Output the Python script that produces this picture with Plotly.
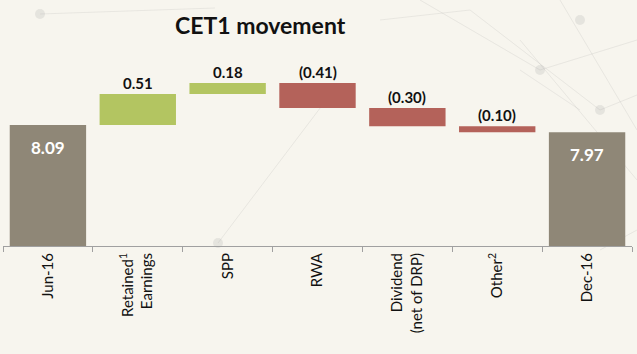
import plotly.graph_objects as go

categories = ["Jun-16", "Retained<sup>1</sup><br>Earnings", "SPP", "RWA",
              "Dividend<br>(net of DRP)", "Other<sup>2</sup>", "Dec-16"]
values = [8.09, 0.51, 0.18, -0.41, -0.30, -0.10, 7.97]
measures = ["absolute", "relative", "relative", "relative", "relative", "relative", "total"]
labels = ["8.09", "0.51", "0.18", "(0.41)", "(0.30)", "(0.10)", "7.97"]

GREY = "#8F8777"
GREEN = "#B3C561"
RED = "#B4625A"
FONT = "Lato"

fig = go.Figure()
fig.add_trace(go.Waterfall(
    x=categories, y=values, measure=measures,
    increasing=dict(marker=dict(color=GREEN)),
    decreasing=dict(marker=dict(color=RED)),
    totals=dict(marker=dict(color=GREY)),
    connector=dict(visible=False),
    width=0.85, textinfo="none", hoverinfo="skip",
))

# label positions from the running total
ann = []
run = 0.0
for c, v, m, t in zip(categories, values, measures, labels):
    if m == "absolute":
        run = v
        ann.append(dict(x=c, y=v, text=t, showarrow=False, yanchor="middle", yshift=-22,
                        font=dict(family=FONT, size=17, color="white", weight="bold")))
    elif m == "total":
        ann.append(dict(x=c, y=run, text=t, showarrow=False, yanchor="middle", yshift=-22,
                        font=dict(family=FONT, size=17, color="white", weight="bold")))
    else:
        top = max(run, run + v)
        run += v
        ann.append(dict(x=c, y=top, text=t, showarrow=False, yanchor="bottom", yshift=0,
                        font=dict(family=FONT, size=15, color="#111111", weight="bold")))

ann.append(dict(xref="paper", yref="paper", x=0.41, y=1.0, yshift=35, text="CET1 movement",
                showarrow=False, xanchor="center", yanchor="middle",
                font=dict(family=FONT, size=23, color="#111111", weight="bold")))

# faint decorative network background
shapes = []
lines = [(40, 14, 215, 8), (420, 0, 540, 70), (540, 70, 637, 40), (470, 10, 600, 110),
         (560, 0, 637, 130), (600, 110, 637, 95), (520, 40, 637, 180), (380, 20, 470, 10),
         (218, 243, 330, 95), (580, 110, 520, 70), (600, 250, 637, 230)]
for x0, y0, x1, y1 in lines:
    shapes.append(dict(type="line", xref="paper", yref="paper", layer="below",
                       x0=(x0 - 3) / 629, x1=(x1 - 3) / 629,
                       y0=(246 - y0) / 186, y1=(246 - y1) / 186,
                       line=dict(color="rgba(150,150,150,0.15)", width=1)))
dots = [(40, 14), (218, 243), (540, 70), (600, 110), (580, 20)]
for x, y in dots:
    shapes.append(dict(type="circle", xref="paper", yref="paper", layer="below",
                       x0=(x - 5 - 3) / 629, x1=(x + 5 - 3) / 629,
                       y0=(246 - y - 5) / 186, y1=(246 - y + 5) / 186,
                       fillcolor="rgba(160,160,160,0.2)", line=dict(width=0)))

fig.update_layout(
    width=637, height=354,
    margin=dict(l=3, r=5, t=60, b=108),
    paper_bgcolor="#F7F5EE", plot_bgcolor="rgba(0,0,0,0)",
    showlegend=False,
    annotations=ann, shapes=shapes,
    xaxis=dict(type="category", tickangle=-90, showline=True, linecolor="#A0A0A0",
               linewidth=1, ticks="outside", tickson="boundaries", ticklen=5,
               tickcolor="#A0A0A0", showgrid=False,
               tickfont=dict(family=FONT, size=15, color="#111111")),
    yaxis=dict(range=[6.1, 9.16], visible=False, showgrid=False, zeroline=False),
)

fig.write_html("out.html")
